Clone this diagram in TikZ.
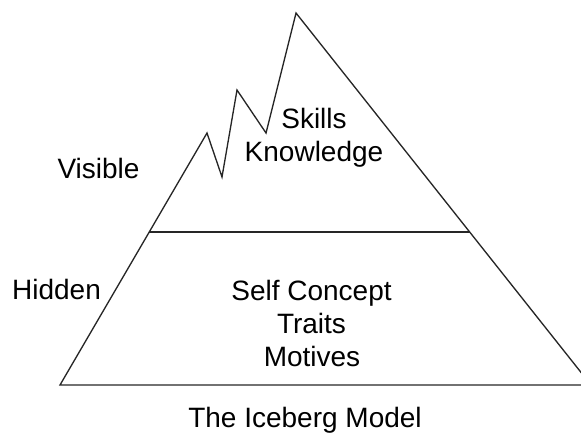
\documentclass[tikz,border=0pt]{standalone}
\usepackage{fontspec}
\setmainfont{Liberation Sans}
\begin{document}
\begin{tikzpicture}[x=0.75pt,y=-0.75pt,
  lbl/.style={font=\fontsize{21}{24}\selectfont, inner sep=0pt, anchor=base},
  edge/.style={line width=1pt, line join=miter, draw=black!85}]
\useasboundingbox (0,0) rectangle (581,432);
\begin{scope}
\clip (0,0) rectangle (581,432);
\draw[edge] (60,385) -- (207,133) -- (222,177) -- (237,90) -- (266,133) -- (296,13) -- (591,385) -- cycle;
\draw[edge] (149.3,232) -- (469.7,232);
\end{scope}
\node[lbl] (visible) at (98.5,178) {Visible};
\node[lbl] (hidden) at (56.5,299) {Hidden};
\node[lbl] (skills) at (314,128) {Skills};
\node[lbl] (knowledge) at (314,161.5) {Knowledge};
\node[lbl] (self) at (311.5,300) {Self Concept};
\node[lbl] (traits) at (311.5,333) {Traits};
\node[lbl] (motives) at (312,366) {Motives};
\node[lbl] (title) at (305,427.5) {The Iceberg Model};
\end{tikzpicture}
\end{document}
